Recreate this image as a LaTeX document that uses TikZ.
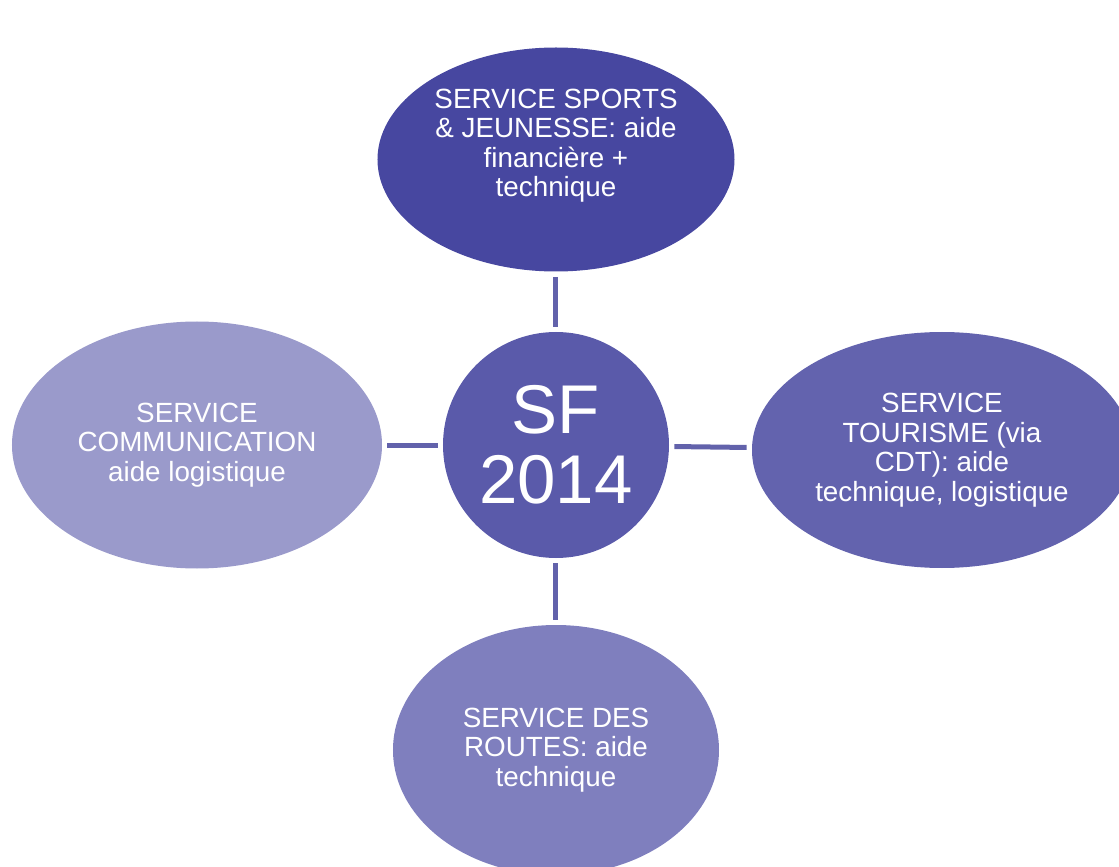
\documentclass[tikz,border=0pt]{standalone}
\usepackage{fontspec}
\setmainfont{Liberation Sans}
\usepackage{xcolor}
\usepackage{tikz}
\usetikzlibrary{shapes.geometric, positioning}
\definecolor{sportsfill}{HTML}{4747A0}
\definecolor{sffill}{HTML}{5A5AAA}
\definecolor{tourismefill}{HTML}{6363AE}
\definecolor{routesfill}{HTML}{7F7FBE}
\definecolor{commfill}{HTML}{9A9ACB}
\definecolor{linkcolor}{HTML}{6262AB}
\tikzset{
    ellipsenode/.style = {draw=none, ellipse, inner sep = 0em, node distance=0em, text=white, 
      font=\fontsize{13.9}{14.75}\selectfont},
    circlenode/.style = {draw=none, circle, inner sep = 0em, node distance=0em, text=white, 
      font=\fontsize{34.5}{35}\selectfont},
    textnode/.style  = {draw=none, fill=none, rectangle, minimum size=0cm, inner sep = 0em, 
      node distance=0em, text=white, font=\fontsize{13.9}{14.75}\selectfont},
    connect/.style = {linkcolor, line width=2.5pt, shorten >=2.5pt, shorten <=2.5pt},
    every text node part/.style={align=center}
}

\begin{document}
\begin{tikzpicture}
    \useasboundingbox (-278pt,-211pt) rectangle (281.5pt,222.5pt);

    \node [name=sf, circlenode, fill=sffill, minimum size=113pt] {SF\\2014}; 

    \node [name=sports, ellipsenode, fill=sportsfill, minimum width=178.5pt, minimum height=112pt, 
        above of = sf, yshift=142.75pt] {}; 
    \node [name=sportstext, textnode, above of = sports, yshift=7pt] 
        {SERVICE SPORTS\\\& JEUNESSE: aide\\financière +\\technique}; 

    \node [name=comm, ellipsenode, fill=commfill, minimum width=185pt, minimum height=123.5pt, 
        left of = sf, xshift=-179.5pt] {SERVICE\\COMMUNICATION\\aide logistique}; 

    \node [name=tourisme, ellipsenode, fill=tourismefill, minimum width=190pt, minimum height=118pt, 
        right of = sf, xshift=193pt, yshift=-2.5pt] {SERVICE\\TOURISME (via\\CDT): aide\\technique, logistique}; 

    \node [name=routes, ellipsenode, fill=routesfill, minimum width=163pt, minimum height=125pt, 
        below of = sf, yshift=-152.5pt] {SERVICE DES\\ROUTES: aide\\technique}; 

    \draw [connect] (sports) -- (sf); 
    \draw [connect] (comm) -- (sf); 
    \draw [connect] (sf) -- (tourisme); 
    \draw [connect] (sf) -- (routes); 
\end{tikzpicture}
\end{document}
